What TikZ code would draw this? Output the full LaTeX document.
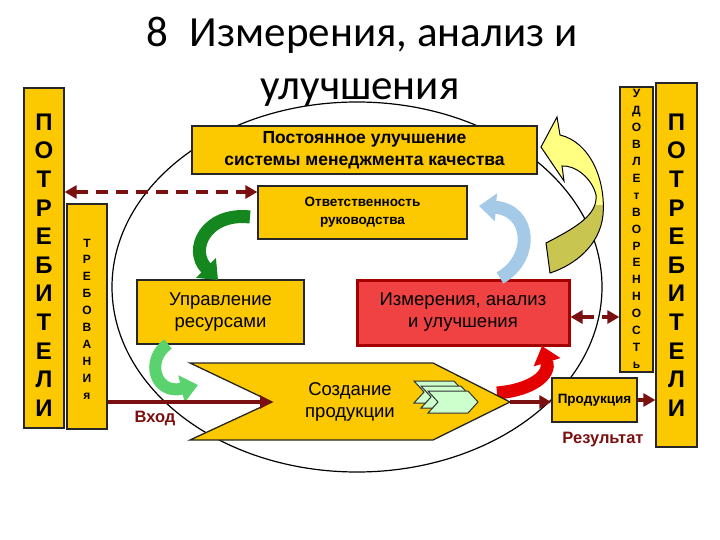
\documentclass[tikz,border=0pt]{standalone}
\usepackage{fontspec}
\setmainfont{Liberation Sans}
\newfontfamily\titlefont{Carlito}
\usetikzlibrary{arrows.meta}
\definecolor{gold}{RGB}{252,200,0}
\definecolor{maroon}{RGB}{122,16,16}
\definecolor{redfill}{RGB}{240,66,66}
\definecolor{redborder}{RGB}{165,0,0}
\definecolor{dkgreen}{RGB}{20,135,30}
\definecolor{ltgreen}{RGB}{90,210,110}
\definecolor{ltblue}{RGB}{164,202,232}
\definecolor{brightred}{RGB}{228,0,0}
\definecolor{ylw}{RGB}{255,255,130}
\definecolor{olive}{RGB}{200,198,80}
\definecolor{chevgreen}{RGB}{204,255,204}
\begin{document}
\begin{tikzpicture}[x=1pt,y=-1pt,
  goldbox/.style={draw=black!85, line width=1.3pt, fill=gold, inner sep=0pt, align=center},
  bigletters/.style={font=\bfseries\fontsize{24}{28.6}\selectfont, align=center, inner sep=0pt},
  smallletters/.style={font=\bfseries\fontsize{12}{16.9}\selectfont, align=center, inner sep=0pt},
  dasharr/.style={draw=maroon, line width=4pt, dash pattern=on 12pt off 8pt,
     {Triangle[width=13pt,length=12pt]}-{Triangle[width=13pt,length=12pt]}},
  solidarr/.style={draw=maroon, line width=4pt, -{Triangle[width=13pt,length=12pt]}},
  curvarr/.style={line width=13pt, -{Triangle[width=27pt,length=17pt]}},
  chev/.style={draw=black!80, line width=1pt, fill=chevgreen}
]
\useasboundingbox (0,0) rectangle (720,540);

% big ellipse
\draw[line width=1.2pt] (357,287) ellipse [x radius=245, y radius=185];

% title
\node[font=\titlefont\fontsize{43}{50}\selectfont, anchor=base, inner sep=0pt] (title1) at (362,47) {8\enspace Измерения, анализ и};
\node[font=\titlefont\fontsize{43}{50}\selectfont, anchor=base, inner sep=0pt] (title2) at (360,100) {улучшения};

% left customers and requirements
\node[goldbox, minimum width=40pt, minimum height=340pt] (potrL) at (44,258) {};
\node[bigletters] (potrLtxt) at (44,265) {П\\О\\Т\\Р\\Е\\Б\\И\\Т\\Е\\Л\\И};
\node[goldbox, minimum width=40pt, minimum height=225pt] (treb) at (87,316.5) {};
\node[smallletters] (trebtxt) at (87,319) {Т\\Р\\Е\\Б\\О\\В\\А\\Н\\И\\я};

% right satisfaction and customers
\node[goldbox, minimum width=33pt, minimum height=285pt] (udov) at (636.5,229.5) {};
\node[smallletters] (udovtxt) at (636.5,229) {У\\Д\\О\\В\\Л\\Е\\т\\В\\О\\Р\\Е\\Н\\Н\\О\\С\\Т\\ь};
\node[goldbox, minimum width=41pt, minimum height=364pt] (potrR) at (676.5,265) {};
\node[bigletters] (potrRtxt) at (676.5,265) {П\\О\\Т\\Р\\Е\\Б\\И\\Т\\Е\\Л\\И};

% central boxes
\node[goldbox, minimum width=345pt, minimum height=48pt, font=\bfseries\fontsize{17.5}{22}\selectfont] (impr) at (364.5,150) {Постоянное улучшение\\системы менеджмента качества};
\node[goldbox, minimum width=209pt, minimum height=53pt, font=\bfseries\fontsize{13.5}{18}\selectfont] (otv) at (362.5,212.5) {Ответственность\\руководства};
\node[goldbox, minimum width=167pt, minimum height=64pt, font=\fontsize{18.5}{22}\selectfont] (res) at (220.5,312) {Управление\\ресурсами};
\node[draw=redborder, line width=3pt, fill=redfill, minimum width=212pt, minimum height=65pt, align=center, inner sep=0pt, font=\fontsize{18.5}{22}\selectfont] (meas) at (463,312.5) {Измерения, анализ\\и улучшения};

% red curved arrow (behind chevron)
\draw[curvarr, color=brightred] (497,393) .. controls (532,390) and (551,375) .. (542,346);

% production chevron
\draw[draw=black!85, line width=1.3pt, fill=gold] (190,363) -- (433,363) -- (510,402) -- (433,440) -- (190,440) -- (272,402) -- cycle;
\coordinate (notch) at (272,402);
\coordinate (tip) at (510,402);
\node[font=\fontsize{18.5}{22}\selectfont, align=center, inner sep=0pt] (create) at (350,402) {Создание\\продукции};
\draw[chev] (414,381) -- (454,381) -- (464,392) -- (454,403) -- (414,403) -- (424,392) -- cycle;
\draw[chev] (421,386) -- (461,386) -- (471,397) -- (461,408) -- (421,408) -- (431,397) -- cycle;
\draw[chev] (428,391) -- (468,391) -- (478,402) -- (468,413) -- (428,413) -- (438,402) -- cycle;

% product box
\node[goldbox, minimum width=85pt, minimum height=44pt, font=\bfseries\fontsize{13.5}{16}\selectfont] (prod) at (594.5,400) {Продукция};

% labels
\node[font=\bfseries\fontsize{16.5}{20}\selectfont, text=maroon, inner sep=0pt] (vhod) at (155,418) {Вход};
\node[font=\bfseries\fontsize{16.5}{20}\selectfont, text=maroon, inner sep=0pt] (result) at (603,440) {Результат};

% curved arrows
\draw[curvarr, color=dkgreen] (250,217) .. controls (206,212) and (188,250) .. (218,280);
\draw[curvarr, color=ltblue] (500,278) .. controls (535,258) and (531,210) .. (479,206);
\draw[curvarr, line width=12pt, color=ltgreen] (168,344) .. controls (145,360) and (155,395) .. (198,385);

% yellow curved arrow
\begin{scope}
\path[clip] (546,243) .. controls (575,228) and (598,215) .. (596,195) .. controls (592,178) and (575,165) .. (562,166) -- (564,181) -- (541,147) -- (557,117) -- (560,135) .. controls (590,142) and (606,180) .. (603,215) .. controls (600,245) and (575,265) .. (550,273) -- cycle;
\fill[ylw] (530,100) rectangle (620,280);
\fill[olive] (530,205) rectangle (620,280);
\end{scope}
\draw[line width=1pt] (546,243) .. controls (575,228) and (598,215) .. (596,195) .. controls (592,178) and (575,165) .. (562,166) -- (564,181) -- (541,147) -- (557,117) -- (560,135) .. controls (590,142) and (606,180) .. (603,215) .. controls (600,245) and (575,265) .. (550,273) -- cycle;

% connectors
\draw[dasharr] (potrL.east |- 0,192) -- (otv.west |- 0,192);
\draw[dasharr] (meas.east |- 0,317) -- (udov.west |- 0,317);
\draw[solidarr] (treb.east |- notch) -- (notch);
\draw[solidarr] (tip) -- (prod.west |- tip);
\draw[solidarr] (prod.east) -- (potrR.west |- prod.east);
\end{tikzpicture}
\end{document}
